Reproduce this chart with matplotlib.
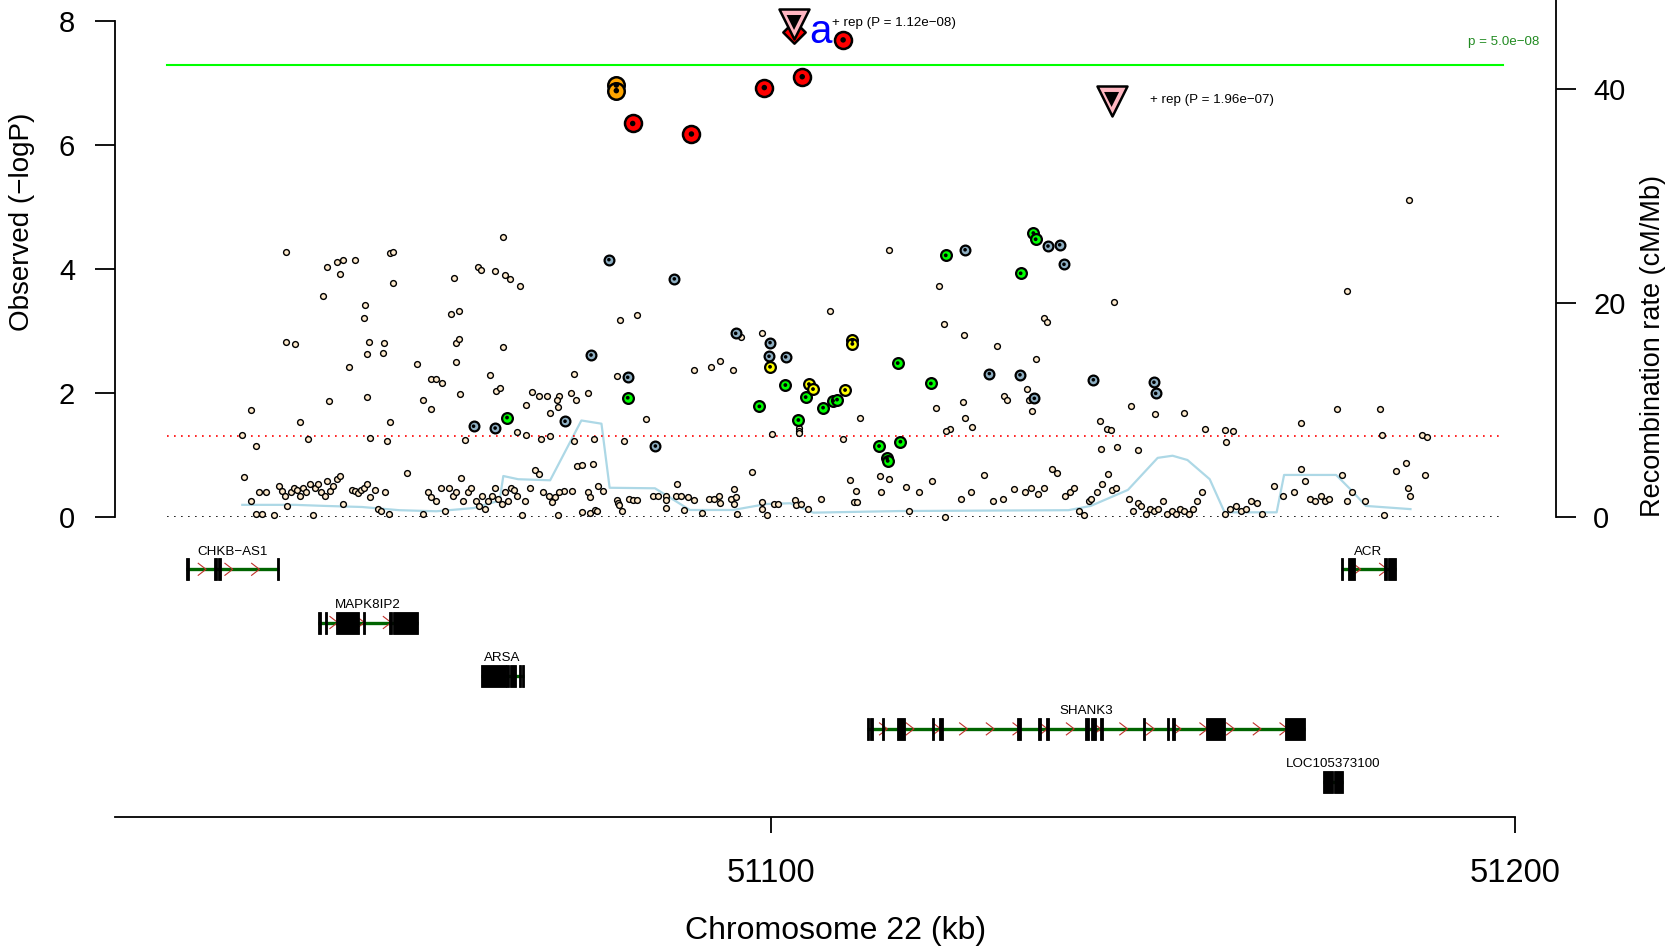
import matplotlib
matplotlib.use("Agg")
import matplotlib.pyplot as plt
import numpy as np

plt.rcParams['font.family'] = ['Liberation Sans', 'DejaVu Sans']

# ---------------- data ----------------
cream_kb = [
    51028.9, 51030.1, 51030.7, 51034.8, 51034.8, 51036.0, 51036.7, 51037.8, 51039.8, 51040.3,
    51040.5, 51041.7, 51042.1, 51042.5, 51044.1, 51043.3, 51045.3, 51045.4, 51045.7, 51045.7,
    51046.0, 51046.1, 51048.0, 51047.8, 51048.4, 51048.7, 51049.1, 51049.1, 51048.7, 51052.4,
    51053.2, 51054.3, 51055.0, 51054.3, 51055.7, 51057.0, 51057.4, 51057.6, 51057.7, 51058.0,
    51058.0, 51058.2, 51058.9, 51060.6, 51061.0, 51062.2, 51062.9, 51063.0, 51063.6, 51063.9,
    51064.0, 51064.2, 51064.9, 51066.3, 51065.8, 51067.1, 51067.1, 51067.9, 51068.8, 51069.1,
    51069.9,
    51029.1, 51030.1, 51030.7, 51031.5, 51031.2, 51032.1, 51033.2, 51033.8, 51034.2, 51034.7,
    51034.9, 51035.4, 51035.8, 51036.2, 51036.7, 51037.1, 51037.5, 51038.0, 51038.4, 51038.7,
    51039.1, 51039.5, 51040.0, 51040.3, 51040.7, 51041.1, 51041.6, 51042.0, 51042.4, 51043.6,
    51044.0, 51044.4, 51044.8, 51045.3, 51045.7, 51046.1, 51046.7, 51047.1, 51047.6, 51048.1,
    51048.6, 51051.1, 51053.2, 51053.9, 51054.3, 51055.0, 51055.6, 51056.2, 51056.7, 51057.2,
    51057.6, 51058.3, 51058.6, 51059.3, 51059.7, 51060.3, 51060.7, 51061.2, 51061.6, 51062.0,
    51062.5, 51062.9, 51063.3, 51063.8, 51064.2, 51064.6, 51065.0, 51065.5, 51065.9, 51066.5,
    51066.9, 51067.6, 51068.3, 51068.8, 51069.3, 51070.1,
    51098.75, 51095.97, 51073.55, 51079.25, 51073.1, 51075.44, 51073.73, 51071.49, 51071.27, 51071.4,
    51070.28, 51089.7, 51091.93, 51093.1, 51094.94, 51083.15, 51112.0, 51100.2, 51103.77, 51103.77,
    51103.77, 51109.73, 51070.28, 51073.5, 51076.2, 51080.23, 51073.87, 51074.58, 51076.06, 51097.45,
    51110.58, 51111.48, 51114.66, 51115.83, 51114.84, 51076.69, 51077.45, 51073.24, 51072.16, 51071.49,
    51070.95, 51070.5, 51075.44, 51075.66, 51071.4, 51074.58, 51075.66, 51076.33, 51076.65, 51079.29,
    51079.47, 51079.56, 51080.0, 51080.95, 51081.44, 51081.98, 51084.13, 51084.76, 51085.93, 51085.88,
    51085.84, 51087.32, 51087.23, 51087.9, 51088.8, 51089.6, 51088.26, 51090.77, 51091.66, 51092.38,
    51093.05, 51093.14, 51094.58, 51095.07, 51095.03, 51095.3, 51095.43, 51098.79, 51098.79, 51099.46,
    51100.36, 51100.9, 51103.28, 51103.32, 51103.99, 51104.93, 51106.73, 51111.17, 51111.57,
    51079.7, 51082.0, 51108.0, 51115.9,
    51146.17, 51136.67, 51137.1, 51125.9, 51130.4, 51135.64, 51134.4, 51134.65, 51131.4, 51131.78,
    51135.05, 51125.8, 51126.1, 51127.03, 51148.46, 51151.7, 51155.5, 51144.2, 51145.14, 51145.77,
    51158.37, 51161.06, 51162.13, 51161.15, 51144.38, 51146.5, 51149.4, 51124.07,
    51122.2, 51122.6, 51123.2, 51123.6, 51118.2, 51118.5, 51119.9, 51121.6, 51123.4,
    51125.6, 51126.9, 51128.6, 51129.9, 51131.2, 51132.7, 51134.1, 51134.9, 51135.9, 51136.7,
    51137.8, 51138.4, 51139.5, 51140.2, 51140.7, 51141.4, 51142.1, 51142.7, 51143.1, 51143.8,
    51144.5, 51145.3, 51145.8, 51146.4, 51148.1, 51148.7, 51149.3, 51149.8, 51150.4, 51151.0,
    51151.5, 51152.1, 51152.7, 51153.2, 51153.9, 51154.4, 51155.0, 51155.6, 51156.2, 51156.7,
    51157.3, 51157.9, 51161.0, 51161.7, 51162.5, 51163.2, 51163.9, 51164.6, 51165.3, 51166.0,
    51167.6, 51168.9, 51170.3,
    51171.3, 51171.8, 51172.5, 51173.2, 51173.9, 51174.5, 51175.1, 51176.1, 51176.8, 51177.5,
    51178.2, 51177.4, 51179.9, 51181.9, 51182.2, 51182.5, 51184.0, 51185.4, 51185.8, 51185.7,
    51185.9, 51187.6, 51188.2, 51187.9, 51171.3,
]
cream_logp = [
    1.31, 1.72, 1.14, 4.27, 2.82, 2.79, 1.53, 1.26, 3.56, 4.03,
    1.86, 4.11, 3.92, 4.15, 4.15, 2.41, 3.20, 3.41, 2.63, 1.93,
    2.82, 1.27, 2.80, 2.65, 1.22, 4.25, 4.28, 3.77, 1.53, 2.46,
    1.89, 2.22, 2.22, 1.74, 2.15, 3.27, 3.85, 2.49, 2.80, 2.87,
    3.32, 1.98, 1.24, 4.03, 3.99, 2.29, 3.96, 2.03, 2.08, 2.74,
    4.51, 3.91, 3.84, 3.73, 1.36, 1.81, 1.32, 2.01, 1.94, 1.26,
    1.94,
    0.64, 0.26, 0.05, 0.05, 0.40, 0.40, 0.03, 0.50, 0.41, 0.34,
    0.17, 0.40, 0.46, 0.43, 0.34, 0.46, 0.40, 0.52, 0.03, 0.46,
    0.52, 0.40, 0.34, 0.57, 0.41, 0.50, 0.60, 0.65, 0.21, 0.43,
    0.41, 0.38, 0.43, 0.46, 0.52, 0.31, 0.43, 0.12, 0.09, 0.40,
    0.05, 0.71, 0.05, 0.40, 0.31, 0.26, 0.46, 0.09, 0.46, 0.33,
    0.40, 0.62, 0.26, 0.40, 0.46, 0.26, 0.17, 0.34, 0.12, 0.26,
    0.34, 0.46, 0.29, 0.21, 0.40, 0.26, 0.46, 0.43, 0.34, 0.03,
    0.26, 0.46, 0.76, 0.69, 0.40, 0.33,
    2.97, 2.90, 2.30, 2.27, 2.00, 2.00, 1.88, 1.95, 1.88, 1.77,
    1.68, 2.36, 2.41, 2.52, 2.37, 1.57, 1.59, 1.33, 1.43, 1.38,
    1.345, 1.25, 1.30, 1.22, 1.26, 1.22, 0.82, 0.84, 0.855, 0.715,
    0.59, 0.42, 0.65, 0.61, 0.40, 0.50, 0.41, 0.41, 0.42, 0.40,
    0.32, 0.24, 0.39, 0.31, 0.026, 0.08, 0.064, 0.10, 0.09, 0.27,
    0.225, 0.19, 0.09, 0.28, 0.27, 0.27, 0.33, 0.33, 0.34, 0.27,
    0.14, 0.52, 0.33, 0.33, 0.31, 0.27, 0.10, 0.06, 0.28, 0.28,
    0.34, 0.225, 0.28, 0.20, 0.45, 0.32, 0.036, 0.236, 0.117, 0.02,
    0.20, 0.21, 0.27, 0.18, 0.21, 0.128, 0.29, 0.24, 0.24,
    3.18, 3.25, 3.32, 4.30,
    3.47, 3.21, 3.144, 2.93, 2.76, 2.54, 2.06, 1.88, 1.95, 1.89,
    1.71, 1.85, 1.59, 1.45, 1.78, 1.65, 1.68, 1.55, 1.41, 1.40,
    1.415, 1.405, 1.383, 1.20, 1.09, 1.13, 1.08, 1.41,
    1.75, 3.72, 3.11, 1.38, 0.48, 0.09, 0.40, 0.57, 0.0,
    0.29, 0.40, 0.67, 0.26, 0.29, 0.45, 0.40, 0.46, 0.36, 0.46,
    0.77, 0.71, 0.33, 0.40, 0.46, 0.09, 0.02, 0.26, 0.29, 0.40,
    0.52, 0.69, 0.43, 0.46, 0.29, 0.09, 0.22, 0.17, 0.05, 0.12,
    0.09, 0.12, 0.26, 0.05, 0.09, 0.05, 0.12, 0.09, 0.05, 0.12,
    0.26, 0.40, 0.05, 0.12, 0.17, 0.09, 0.12, 0.26, 0.22, 0.05,
    0.50, 0.34, 0.40,
    0.77, 0.57, 0.29, 0.26, 0.33, 0.26, 0.29, 1.74, 0.67, 0.26,
    0.40, 3.64, 0.26, 1.74, 1.32, 0.03, 0.74, 0.86, 5.11, 0.46,
    0.33, 1.32, 1.29, 0.67, 1.51,
]

blue_kb = [51060.0, 51062.9, 51078.2, 51087.0, 51095.25, 51099.87, 51099.73, 51101.97, 51080.73,
           51075.8, 51072.3, 51084.45, 51126.1, 51137.25, 51138.82, 51139.4, 51129.36, 51133.48,
           51135.41, 51143.35, 51151.5, 51151.73]
blue_logp = [1.46, 1.43, 4.15, 3.84, 2.96, 2.81, 2.59, 2.58, 2.25,
             2.61, 1.54, 1.14, 4.31, 4.37, 4.39, 4.075, 2.31, 2.29,
             1.91, 2.21, 2.17, 1.99]

green_kb = [51064.5, 51080.73, 51098.43, 51101.93, 51104.66, 51103.68, 51107.0, 51108.34, 51108.88,
            51114.53, 51115.6, 51115.69, 51117.04, 51117.4, 51121.5, 51123.5, 51135.28, 51135.59,
            51133.57]
green_logp = [1.60, 1.92, 1.78, 2.125, 1.93, 1.56, 1.76, 1.87, 1.89,
              1.14, 0.94, 0.90, 2.48, 1.21, 2.15, 4.22, 4.58, 4.48,
              3.93]

yellow_kb = [51099.87, 51105.1, 51105.65, 51109.96, 51110.94, 51110.94]
yellow_logp = [2.42, 2.14, 2.06, 2.045, 2.85, 2.79]

orange_kb = [51079.2, 51079.2]
orange_logp = [6.97, 6.88]

red_kb = [51109.7, 51104.2, 51099.1, 51081.4, 51089.3]
red_logp = [7.70, 7.105, 6.93, 6.35, 6.18]

index_kb = [51103.1]
index_logp = [7.82]
index_label = "a"

rep_kb = [51103.1, 51145.8]
rep_p = [1.12e-08, 1.96e-07]
rep_text = ["+ rep (P = 1.12e\u221208)", "+ rep (P = 1.96e\u221207)"]

gw_p = 5.0e-08
gw_text = "p = 5.0e\u221208"
nominal_p = 0.05

rec_kb = [51028.9, 51036.0, 51040.0, 51045.0, 51050.0, 51055.0, 51060.0, 51063.5, 51064.0,
          51066.0, 51070.3, 51074.5, 51077.2, 51078.3, 51084.4, 51089.1, 51094.9, 51099.4,
          51102.6, 51105.7, 51117.3, 51140.0, 51143.0, 51148.0, 51152.0, 51154.0, 51156.0,
          51159.0, 51161.0, 51168.0, 51169.0, 51176.0, 51178.0, 51180.0, 51186.0]
rec_rate = [1.1, 1.1, 1.0, 0.9, 0.6, 0.5, 0.8, 1.5, 3.8,
            3.5, 3.4, 9.0, 8.7, 2.7, 2.65, 0.62, 0.62, 1.18,
            1.25, 0.37, 0.52, 0.6, 1.0, 2.5, 5.5, 5.7, 5.3,
            3.5, 0.4, 0.4, 3.9, 3.9, 2.5, 1.0, 0.7]

gene_names = ["CHKB\u2212AS1", "MAPK8IP2", "ARSA", "SHANK3", "ACR", "LOC105373100"]
gene_start = [51021.33, 51039.04, 51061.0, 51112.95, 51176.61, 51174.27]
gene_end = [51033.84, 51052.57, 51066.78, 51171.81, 51184.01, 51176.88]
gene_row = [0, 1, 2, 3, 0, 4]
gene_arrows = [True, True, False, True, True, False]
gene_exons = [
    [(51021.33, 51021.73), (51025.13, 51025.54), (51025.59, 51025.99), (51033.53, 51033.84)],
    [(51039.04, 51039.44), (51040.02, 51040.33), (51041.46, 51044.6), (51045.1, 51045.44),
     (51048.63, 51048.99), (51049.13, 51052.57)],
    [(51061.0, 51064.3), (51064.36, 51064.77), (51064.9, 51065.7), (51066.15, 51066.34),
     (51066.5, 51066.78)],
    [(51112.95, 51113.18), (51113.31, 51113.68), (51114.93, 51115.24), (51116.9, 51118.02),
     (51121.61, 51121.92), (51122.63, 51123.17), (51133.04, 51133.58), (51135.87, 51136.27),
     (51136.98, 51137.39), (51142.23, 51142.81), (51142.99, 51143.71), (51144.24, 51144.69),
     (51149.99, 51150.26), (51153.21, 51153.56), (51153.89, 51154.33), (51158.5, 51161.06),
     (51169.12, 51171.81)],
    [(51176.61, 51176.96), (51177.64, 51178.54), (51182.44, 51182.88), (51183.01, 51184.01)],
    [(51174.27, 51175.62), (51175.75, 51176.88)],
]

xticks = [51100, 51200]
yticks_left = [0, 2, 4, 6, 8]
yticks_right = [0, 20, 40]

# ---------------- layout ----------------
W, H, DPI = 1670, 948, 100
PX_PER_KB = 7.436
X_REF_PX = 771.0           # pixel of 51100 kb
AX_L, AX_R = 115.0, 1556.0
Y0_PX = 516.6              # pixel row of -logP = 0
PX_PER_LOGP = 61.91
PX_PER_REC = 10.68
AXIS_PX = 817.0
LINE_L_KB, LINE_R_KB = 51018.8, 51198.5
PT = 72.0 / DPI

def kb_at(px):
    return 51100 + (px - X_REF_PX) / PX_PER_KB

xlim = (kb_at(AX_L), kb_at(AX_R))

fig = plt.figure(figsize=(W / DPI, H / DPI), dpi=DPI)
fig.patch.set_facecolor('white')

ax = fig.add_axes([AX_L / W, (H - Y0_PX) / H, (AX_R - AX_L) / W, Y0_PX / H])
axr = ax.twinx()
ax.set_zorder(axr.get_zorder() + 1)
ax.patch.set_visible(False)

ax.set_xlim(*xlim)
ax.set_ylim(0, Y0_PX / PX_PER_LOGP)
axr.set_ylim(0, Y0_PX / PX_PER_REC)

for s in ['top', 'bottom', 'right']:
    ax.spines[s].set_visible(False)
for s in ['top', 'bottom', 'left']:
    axr.spines[s].set_visible(False)
ax.spines['left'].set_bounds(0, 8)
ax.spines['left'].set_linewidth(1.3)
axr.spines['right'].set_linewidth(1.3)
ax.set_xticks([])
ax.set_yticks(yticks_left)
ax.set_yticklabels([str(v) for v in yticks_left])
ax.tick_params(axis='y', length=20 * PT, width=1.3, pad=20 * PT, labelsize=21)
axr.set_yticks(yticks_right)
axr.set_yticklabels([str(v) for v in yticks_right])
axr.tick_params(axis='y', length=20 * PT, width=1.3, pad=17 * PT, labelsize=21)

# recombination line
axr.plot(rec_kb, rec_rate, color='#ADD8E6', lw=1.6, zorder=1)

# reference lines
ax.plot([LINE_L_KB, LINE_R_KB], [-np.log10(gw_p)] * 2, color='#00FF00', lw=1.5, zorder=2)
ax.plot([LINE_L_KB, LINE_R_KB], [-np.log10(nominal_p)] * 2, color='#FF0000', lw=1.2,
        ls=(0, (1, 3.2)), zorder=2)
ax.plot([LINE_L_KB, LINE_R_KB], [0, 0], color='black', lw=1.2, ls=(0, (1, 3.2)), zorder=2)
ax.text(kb_at(1539), -np.log10(gw_p) + 0.36, gw_text, color='#228B22', fontsize=9.6,
        ha='right', va='center')

def draw_points(xs, ys, fc, outer_px, dot_px, lw, z):
    d = (outer_px * PT - lw)
    ax.scatter(xs, ys, s=d ** 2, facecolor=fc, edgecolor='black', linewidth=lw,
               zorder=z, clip_on=False)
    if dot_px > 0:
        ax.scatter(xs, ys, s=(dot_px * PT) ** 2, facecolor='black', edgecolor='none',
                   zorder=z + 0.1, clip_on=False)

draw_points(cream_kb, cream_logp, '#FFEBCD', 7.2, 0, 1.0, 3)
draw_points(blue_kb, blue_logp, '#8EAFC3', 12.0, 3.6, 1.6, 4)
draw_points(green_kb, green_logp, '#00FF00', 13.0, 3.8, 1.6, 5)
draw_points(yellow_kb, yellow_logp, '#FFFF00', 13.0, 3.8, 1.6, 6)
draw_points(orange_kb, orange_logp, '#FFA500', 19.0, 5.5, 1.8, 7)
draw_points(red_kb, red_logp, '#FF0000', 19.5, 5.5, 1.8, 8)

# index SNP (diamond)
ax.scatter(index_kb, index_logp, marker='D', s=(22 * PT * 0.72) ** 2 * 1.0,
           facecolor='#FF0000', edgecolor='black', linewidth=1.8, zorder=9, clip_on=False)
ax.text(index_kb[0] + 3.6, index_logp[0], index_label, color='#0000FF', fontsize=29,
        ha='center', va='center', zorder=12)

# replication triangles
rep_logp = [-np.log10(p) for p in rep_p]
ax.scatter(rep_kb, rep_logp, marker='v', s=(30 * PT) ** 2, facecolor='#FFB6C1',
           edgecolor='black', linewidth=1.8, zorder=10, clip_on=False)
ax.scatter(rep_kb, [v + 0.03 for v in rep_logp], marker='v', s=(15 * PT) ** 2,
           facecolor='black', edgecolor='none', zorder=11, clip_on=False)
for xk, yv, t in zip(rep_kb, rep_logp, rep_text):
    ax.text(xk + 38 / PX_PER_KB, yv + 0.02, t, fontsize=9.6, ha='left', va='center', zorder=12)

# ---------------- gene track ----------------
ag = fig.add_axes([AX_L / W, (H - AXIS_PX) / H, (AX_R - AX_L) / W, (AXIS_PX - Y0_PX) / H])
ag.set_xlim(*xlim)
ag.set_ylim(AXIS_PX, Y0_PX)
ag.patch.set_visible(False)
for s in ['top', 'left', 'right']:
    ag.spines[s].set_visible(False)
ag.spines['bottom'].set_bounds(xlim[0], xticks[-1])
ag.spines['bottom'].set_linewidth(1.3)
ag.set_yticks([])
ag.set_xticks(xticks)
ag.set_xticklabels([str(v) for v in xticks])
ag.tick_params(axis='x', length=16 * PT, width=1.3, pad=25 * PT, labelsize=23.5)

ROW0, ROW_STEP = 569.3, 53.2
EXON_HALF = 11.0
ARROW_STEP_KB = 3.59
for name, gs, ge, row, arr, exons in zip(gene_names, gene_start, gene_end, gene_row,
                                          gene_arrows, gene_exons):
    yc = ROW0 + ROW_STEP * row
    ag.plot([gs, ge], [yc, yc], color='#006400', lw=2.4, solid_capstyle='butt', zorder=2)
    if arr:
        xa = gs + ARROW_STEP_KB * 0.75
        while xa < ge:
            ag.plot([xa - 1.05, xa, xa - 1.05], [yc - 6, yc, yc + 6], color='#C0302A',
                    lw=0.8, zorder=3)
            xa += ARROW_STEP_KB
    for (e0, e1) in exons:
        ag.add_patch(plt.Rectangle((e0, yc - EXON_HALF), max(e1 - e0, 0.25), 2 * EXON_HALF,
                                   facecolor='black', edgecolor='black', lw=0.6, zorder=4))
    ag.text((gs + ge) / 2, yc - 17.6, name, fontsize=9.6, ha='center', va='center', zorder=5)

# ---------------- axis titles ----------------
fig.text(835.5 / W, 1 - 931 / H, "Chromosome 22 (kb)", fontsize=23, ha='center', va='center')
fig.text(22 / W, 1 - 222 / H, "Observed (\u2212logP)", fontsize=20, rotation=90,
         ha='center', va='center')
fig.text(1653 / W, 1 - 346 / H, "Recombination rate (cM/Mb)", fontsize=19.5, rotation=90,
         ha='center', va='center')

fig.savefig("out.png", dpi=DPI, facecolor='white')
